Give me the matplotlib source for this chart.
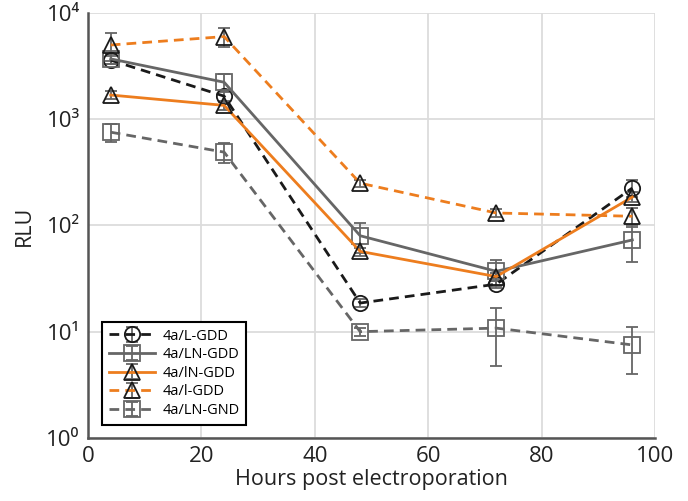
import numpy as np
import matplotlib
matplotlib.use("Agg")
import matplotlib.pyplot as plt
from matplotlib.ticker import FixedLocator, FuncFormatter, NullLocator

plt.rcParams["font.family"] = ["Open Sans", "DejaVu Sans"]

# Data
hours = [4, 24, 48, 72, 96]

l_gdd = [3600, 1650, 18.6, 28, 225]
l_gdd_err = [300, 200, 1.5, 2, 40]

ln_gdd = [3700, 2230, 80, 37, 73]
ln_gdd_err = [400, 420, 25, 10, 28]

in_gdd = [1690, 1350, 57, 33, 185]
in_gdd_err = [150, 120, 5, 3, 20]

i_gdd = [5000, 6000, 250, 131, 122]
i_gdd_err = [1450, 1200, 20, 12, 25]

ln_gnd = [755, 490, 10, 10.8, 7.5]
ln_gnd_err = [145, 106, 0.8, 6, 3.5]

labels = ["4a/L-GDD", "4a/LN-GDD", "4a/lN-GDD", "4a/l-GDD", "4a/LN-GND"]

orange = "#ED7D1E"
grey = "#666666"
black = "#1a1a1a"
sup = {0: "\u2070", 1: "\u00b9", 2: "\u00b2", 3: "\u00b3", 4: "\u2074"}

fig = plt.figure(figsize=(6.88, 5.01), dpi=100)
ax = fig.add_axes([0.128, 0.126, 0.824, 0.848])

common = dict(lw=2.0, mfc="none", mew=1.3, ecolor=grey, elinewidth=1.3,
              capsize=4, capthick=1.3)
dash = (3.5, 2.2)

ax.errorbar(hours, l_gdd, yerr=l_gdd_err, color=black, ls="--", dashes=dash,
            marker="o", ms=11, mec=black, label=labels[0], **common)
ax.errorbar(hours, ln_gdd, yerr=ln_gdd_err, color=grey, ls="-",
            marker="s", ms=11, mec=grey, label=labels[1], **common)
ax.errorbar(hours, in_gdd, yerr=in_gdd_err, color=orange, ls="-",
            marker="^", ms=12, mec=black, label=labels[2], **common)
ax.errorbar(hours, i_gdd, yerr=i_gdd_err, color=orange, ls="--", dashes=dash,
            marker="^", ms=12, mec=black, label=labels[3], **common)
ax.errorbar(hours, ln_gnd, yerr=ln_gnd_err, color=grey, ls="--", dashes=dash,
            marker="s", ms=11, mec=grey, label=labels[4], **common)

ax.set_yscale("log")
ax.set_ylim(1, 1e4)
ax.set_xlim(0, 100)
ax.yaxis.set_major_locator(FixedLocator([1, 10, 100, 1000, 10000]))
ax.yaxis.set_minor_locator(NullLocator())
ax.yaxis.set_major_formatter(FuncFormatter(lambda v, p: "10" + sup[int(round(np.log10(v)))]))
ax.set_xticks([0, 20, 40, 60, 80, 100])

ax.grid(True, color="#dcdcdc", lw=1.3)
ax.set_axisbelow(True)
for s in ["top", "right"]:
    ax.spines[s].set_visible(False)
for s in ["left", "bottom"]:
    ax.spines[s].set_color("#555555")
    ax.spines[s].set_linewidth(1.8)
ax.tick_params(length=0, labelsize=16, colors="#222222", pad=6)

ax.set_xlabel("Hours post electroporation", fontsize=15.5, color="#222222", labelpad=1)
ax.set_ylabel("RLU", fontsize=15.5, color="#222222", labelpad=8)

leg = ax.legend(loc="lower left", bbox_to_anchor=(0.025, 0.031), borderaxespad=0,
                fontsize=10.5, fancybox=False, edgecolor="black", framealpha=1,
                handlelength=3.2, borderpad=0.45, labelspacing=0.25,
                handletextpad=0.5)
leg.get_frame().set_linewidth(1.5)

fig.savefig("out.png", dpi=100)
